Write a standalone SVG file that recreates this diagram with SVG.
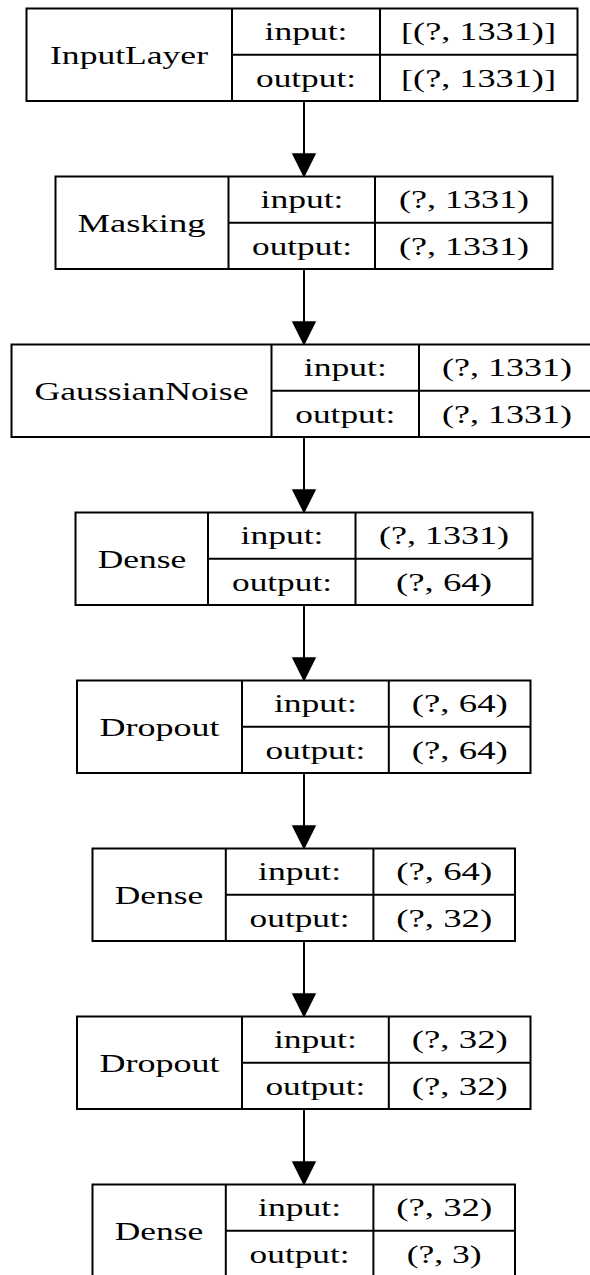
<svg xmlns="http://www.w3.org/2000/svg" width="590" height="1275" viewBox="0 0 590 1275">
<style>
rect.b{fill:#fff;stroke:#000;stroke-width:2}
line.d{stroke:#000;stroke-width:2}
text{font-family:"Liberation Serif","Times New Roman",serif;font-size:25px;fill:#000;text-anchor:middle}
.e line{stroke:#000;stroke-width:2}
.e polygon{fill:#000;stroke:#000;stroke-width:1.5}
</style>
<rect width="590" height="1275" fill="#fff"/>
<g id="edges" class="e">
<line x1="304" y1="101" x2="304" y2="155"/><polygon points="293,154 315,154 304,176"/>
<line x1="304" y1="269" x2="304" y2="323"/><polygon points="293,322 315,322 304,344"/>
<line x1="304" y1="437" x2="304" y2="491"/><polygon points="293,490 315,490 304,512"/>
<line x1="304" y1="605" x2="304" y2="659"/><polygon points="293,658 315,658 304,680"/>
<line x1="304" y1="773" x2="304" y2="827"/><polygon points="293,826 315,826 304,848"/>
<line x1="304" y1="941" x2="304" y2="995"/><polygon points="293,994 315,994 304,1016"/>
<line x1="304" y1="1109" x2="304" y2="1163"/><polygon points="293,1162 315,1162 304,1184"/>
</g>
<g id="n1">
<rect class="b" x="26.5" y="8.5" width="551" height="92.5"/>
<line class="d" x1="232" y1="8.5" x2="232" y2="101"/><line class="d" x1="380" y1="8.5" x2="380" y2="101"/><line class="d" x1="232" y1="54.7" x2="577.5" y2="54.7"/>
<text x="129" y="63.5" textLength="158" lengthAdjust="spacingAndGlyphs">InputLayer</text>
<text x="306" y="40" textLength="83" lengthAdjust="spacingAndGlyphs">input:</text>
<text x="478.5" y="40" textLength="155" lengthAdjust="spacingAndGlyphs">[(?, 1331)]</text>
<text x="306" y="87" textLength="100" lengthAdjust="spacingAndGlyphs">output:</text>
<text x="478.5" y="87" textLength="155" lengthAdjust="spacingAndGlyphs">[(?, 1331)]</text>
</g>
<g id="n2">
<rect class="b" x="55.5" y="176.5" width="497" height="92.5"/>
<line class="d" x1="228.5" y1="176.5" x2="228.5" y2="269"/><line class="d" x1="375" y1="176.5" x2="375" y2="269"/><line class="d" x1="228.5" y1="222.7" x2="552.5" y2="222.7"/>
<text x="141.5" y="231.5" textLength="128" lengthAdjust="spacingAndGlyphs">Masking</text>
<text x="302" y="208" textLength="83" lengthAdjust="spacingAndGlyphs">input:</text>
<text x="464" y="208" textLength="130" lengthAdjust="spacingAndGlyphs">(?, 1331)</text>
<text x="302" y="255" textLength="100" lengthAdjust="spacingAndGlyphs">output:</text>
<text x="464" y="255" textLength="130" lengthAdjust="spacingAndGlyphs">(?, 1331)</text>
</g>
<g id="n3">
<rect class="b" x="11.5" y="344.5" width="584" height="92.5"/>
<line class="d" x1="271.5" y1="344.5" x2="271.5" y2="437"/><line class="d" x1="419" y1="344.5" x2="419" y2="437"/><line class="d" x1="271.5" y1="390.7" x2="595.5" y2="390.7"/>
<text x="141.5" y="399.5" textLength="214" lengthAdjust="spacingAndGlyphs">GaussianNoise</text>
<text x="345.3" y="376" textLength="83" lengthAdjust="spacingAndGlyphs">input:</text>
<text x="507" y="376" textLength="130" lengthAdjust="spacingAndGlyphs">(?, 1331)</text>
<text x="345.3" y="423" textLength="100" lengthAdjust="spacingAndGlyphs">output:</text>
<text x="507" y="423" textLength="130" lengthAdjust="spacingAndGlyphs">(?, 1331)</text>
</g>
<g id="n4">
<rect class="b" x="75.5" y="512.5" width="457" height="92.5"/>
<line class="d" x1="208" y1="512.5" x2="208" y2="605"/><line class="d" x1="355.5" y1="512.5" x2="355.5" y2="605"/><line class="d" x1="208" y1="558.7" x2="532.5" y2="558.7"/>
<text x="142" y="567.5" textLength="88.5" lengthAdjust="spacingAndGlyphs">Dense</text>
<text x="282" y="544" textLength="83" lengthAdjust="spacingAndGlyphs">input:</text>
<text x="444" y="544" textLength="130" lengthAdjust="spacingAndGlyphs">(?, 1331)</text>
<text x="282" y="591" textLength="100" lengthAdjust="spacingAndGlyphs">output:</text>
<text x="444" y="591" textLength="96" lengthAdjust="spacingAndGlyphs">(?, 64)</text>
</g>
<g id="n5">
<rect class="b" x="77" y="680.5" width="453.5" height="92.5"/>
<line class="d" x1="242" y1="680.5" x2="242" y2="773"/><line class="d" x1="388.8" y1="680.5" x2="388.8" y2="773"/><line class="d" x1="242" y1="726.7" x2="530.5" y2="726.7"/>
<text x="159.5" y="735.5" textLength="120" lengthAdjust="spacingAndGlyphs">Dropout</text>
<text x="315.4" y="712" textLength="83" lengthAdjust="spacingAndGlyphs">input:</text>
<text x="459.8" y="712" textLength="96" lengthAdjust="spacingAndGlyphs">(?, 64)</text>
<text x="315.4" y="759" textLength="100" lengthAdjust="spacingAndGlyphs">output:</text>
<text x="459.8" y="759" textLength="96" lengthAdjust="spacingAndGlyphs">(?, 64)</text>
</g>
<g id="n6">
<rect class="b" x="92.5" y="848.5" width="422.5" height="92.5"/>
<line class="d" x1="225.8" y1="848.5" x2="225.8" y2="941"/><line class="d" x1="373.4" y1="848.5" x2="373.4" y2="941"/><line class="d" x1="225.8" y1="894.7" x2="515" y2="894.7"/>
<text x="159" y="903.5" textLength="88.5" lengthAdjust="spacingAndGlyphs">Dense</text>
<text x="299.6" y="880" textLength="83" lengthAdjust="spacingAndGlyphs">input:</text>
<text x="444.2" y="880" textLength="96" lengthAdjust="spacingAndGlyphs">(?, 64)</text>
<text x="299.6" y="927" textLength="100" lengthAdjust="spacingAndGlyphs">output:</text>
<text x="444.2" y="927" textLength="96" lengthAdjust="spacingAndGlyphs">(?, 32)</text>
</g>
<g id="n7">
<rect class="b" x="77" y="1016.5" width="453.5" height="92.5"/>
<line class="d" x1="242" y1="1016.5" x2="242" y2="1109"/><line class="d" x1="388.8" y1="1016.5" x2="388.8" y2="1109"/><line class="d" x1="242" y1="1062.7" x2="530.5" y2="1062.7"/>
<text x="159.5" y="1071.5" textLength="120" lengthAdjust="spacingAndGlyphs">Dropout</text>
<text x="315.4" y="1048" textLength="83" lengthAdjust="spacingAndGlyphs">input:</text>
<text x="459.8" y="1048" textLength="96" lengthAdjust="spacingAndGlyphs">(?, 32)</text>
<text x="315.4" y="1095" textLength="100" lengthAdjust="spacingAndGlyphs">output:</text>
<text x="459.8" y="1095" textLength="96" lengthAdjust="spacingAndGlyphs">(?, 32)</text>
</g>
<g id="n8">
<rect class="b" x="92.5" y="1184.5" width="422.5" height="92.5"/>
<line class="d" x1="225.8" y1="1184.5" x2="225.8" y2="1277"/><line class="d" x1="373.4" y1="1184.5" x2="373.4" y2="1277"/><line class="d" x1="225.8" y1="1230.7" x2="515" y2="1230.7"/>
<text x="159" y="1239.5" textLength="88.5" lengthAdjust="spacingAndGlyphs">Dense</text>
<text x="299.6" y="1216" textLength="83" lengthAdjust="spacingAndGlyphs">input:</text>
<text x="444.2" y="1216" textLength="96" lengthAdjust="spacingAndGlyphs">(?, 32)</text>
<text x="299.6" y="1263" textLength="100" lengthAdjust="spacingAndGlyphs">output:</text>
<text x="444.2" y="1263" textLength="75" lengthAdjust="spacingAndGlyphs">(?, 3)</text>
</g>
</svg>
